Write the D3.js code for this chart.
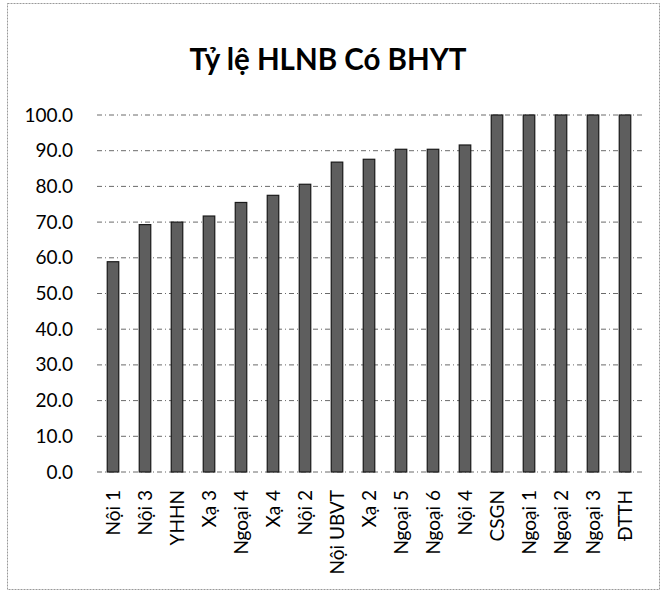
<!DOCTYPE html>
<html><head><meta charset="utf-8">
<script src="https://cdn.jsdelivr.net/npm/d3@7"></script>
<style>body{margin:0;background:#fff}svg{display:block}</style>
</head><body>
<script>
const categories = ["Nội 1","Nội 3","YHHN","Xạ 3","Ngoại 4","Xạ 4","Nội 2","Nội UBVT","Xạ 2","Ngoại 5","Ngoại 6","Nội 4","CSGN","Ngoại 1","Ngoại 2","Ngoại 3","ĐTTH"];
const values = [58.9, 69.3, 70.0, 71.7, 75.5, 77.5, 80.6, 86.8, 87.6, 90.4, 90.4, 91.6, 100, 100, 100, 100, 100];
const yTicks = [0,10,20,30,40,50,60,70,80,90,100];
const title = "Tỷ lệ HLNB Có BHYT";

(function(){
const W = 666, H = 595;
const svg = d3.select("body").append("svg").attr("width", W).attr("height", H);
const font = "Lato, 'Open Sans', sans-serif";

// frame
svg.append("rect").attr("x", 7.5).attr("y", 3.5).attr("width", 652).attr("height", 586)
  .attr("fill", "none").attr("stroke", "#999").attr("stroke-width", 1).attr("stroke-dasharray", "2,1");

const pL = 97, pR = 641, pT = 115, pB = 472;
const x = d3.scaleBand().domain(categories).range([pL, pR]).paddingInner(0.64).paddingOuter(0.32);
const y = d3.scaleLinear().domain([0, 100]).range([pB, pT]);

svg.append("text").attr("x", 328).attr("y", 70).attr("text-anchor", "middle")
  .attr("font-family", font).attr("font-weight", "bold").attr("font-size", 29.5).attr("fill", "#000")
  .text(title);

// gridlines
svg.append("g").selectAll("line").data(yTicks).join("line")
  .attr("x1", pL).attr("x2", pR + 2)
  .attr("y1", d => y(d)).attr("y2", d => y(d))
  .attr("stroke", "#444").attr("stroke-width", 0.8).attr("stroke-dasharray", "5,3,1,3");

// y axis labels
const yAxis = d3.axisLeft(y).tickValues(yTicks).tickFormat(d3.format(".1f")).tickSize(0).tickPadding(0);
const yg = svg.append("g").attr("transform", `translate(${pL - 24},0)`).call(yAxis);
yg.select(".domain").remove();
yg.selectAll("text").attr("font-family", font).attr("font-size", 19).attr("fill", "#000");

// bars
svg.append("g").selectAll("rect").data(values).join("rect")
  .attr("x", (d, i) => x(categories[i]))
  .attr("width", x.bandwidth())
  .attr("y", d => y(d))
  .attr("height", d => y(0) - y(d))
  .attr("fill", "#5e5e5e").attr("stroke", "#1a1a1a").attr("stroke-width", 1.2);

// x labels
const xAxis = d3.axisBottom(x).tickSize(0).tickPadding(0);
const xg = svg.append("g").attr("transform", `translate(0,${pB})`).call(xAxis);
xg.select(".domain").remove();
xg.selectAll("text")
  .attr("font-family", font).attr("font-size", 19).attr("fill", "#000")
  .attr("text-anchor", "end").attr("dy", "0.35em")
  .attr("transform", "translate(0,18) rotate(-90)").attr("x", 0).attr("y", 0);
})();
</script>
</body></html>
